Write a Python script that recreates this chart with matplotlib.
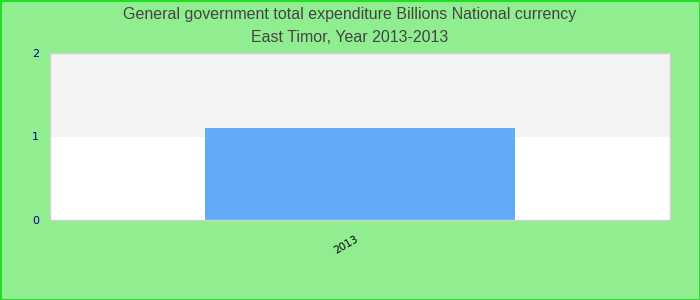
import matplotlib
matplotlib.use("Agg")
import matplotlib.pyplot as plt
from matplotlib.patches import Rectangle

categories = ["2013"]
values = [1.1]
yticks = [0, 1, 2]

W, H = 700, 300
fig = plt.figure(figsize=(W/100, H/100), dpi=100, facecolor="#90EE90")
ax = fig.add_axes([50/W, 1-220/H, 620/W, 167/H])
ax.set_facecolor("white")

ax.set_xlim(-1, 1)
ax.set_ylim(0, 2)
# alternating bands
ax.axhspan(1, 2, facecolor="#F3F3F3", edgecolor="none", zorder=0)
ax.bar(range(len(categories)), values, width=1.0, color="#63AAF7", zorder=2)

ax.set_yticks(yticks)
ax.set_yticklabels([str(t) for t in yticks], color="#00008B", fontsize=8, family="DejaVu Sans")
ax.set_xticks(range(len(categories)))
ax.set_xticklabels(categories, rotation=30, fontsize=7.5, color="black", family="DejaVu Sans", ha="right")
ax.tick_params(axis="y", length=0, pad=8)
ax.tick_params(axis="x", length=0, pad=10)
for s in ax.spines.values():
    s.set_color("#D0D0D0")
    s.set_linewidth(1)

fig.text(0.5, 1-14/H, "General government total expenditure Billions National currency",
         ha="center", va="center", fontsize=11.5, color="#444444", family="Liberation Sans")
fig.text(0.5, 1-37/H, "East Timor, Year 2013-2013",
         ha="center", va="center", fontsize=11.5, color="#444444", family="Liberation Sans")

fig.patches.append(Rectangle((0.5/W, 0.5/H), 1-1/W, 1-1/H, transform=fig.transFigure,
                             fill=False, edgecolor="#22DD22", linewidth=1.5))
fig.savefig("out.png", dpi=100, facecolor=fig.get_facecolor())
